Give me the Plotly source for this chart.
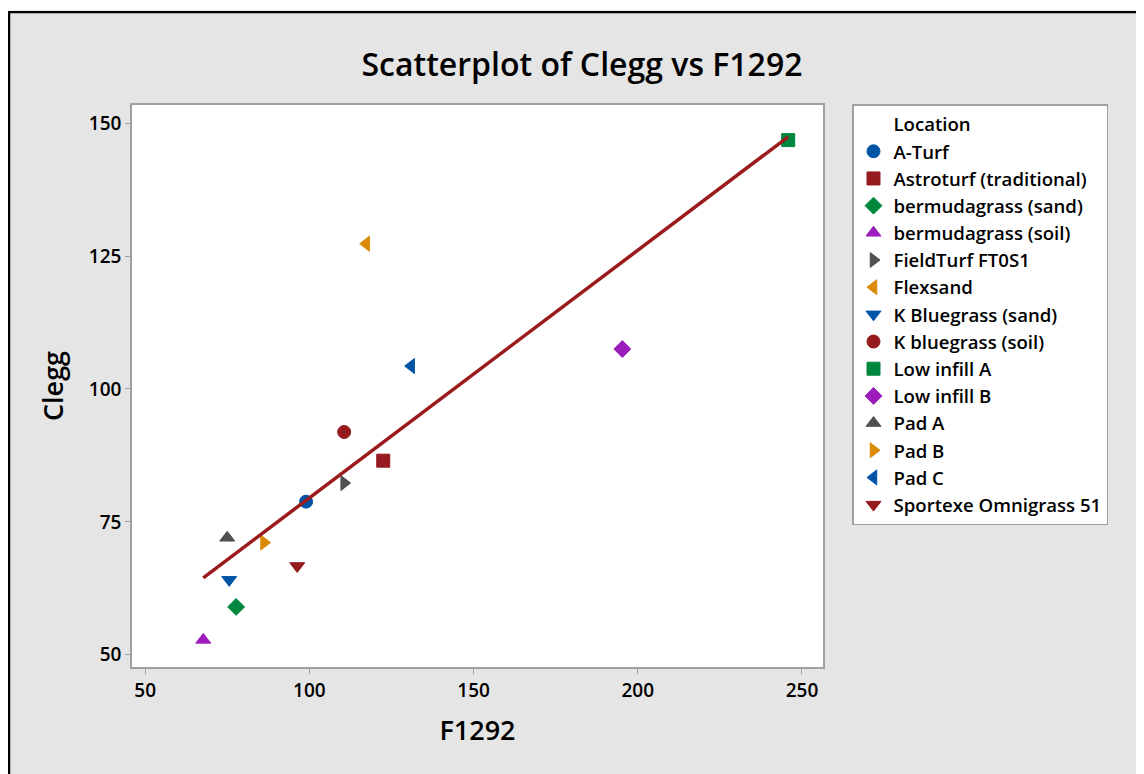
import numpy as np
import plotly.graph_objects as go

locations = ["A-Turf", "Astroturf (traditional)", "bermudagrass (sand)", "bermudagrass (soil)",
             "FieldTurf FT0S1", "Flexsand", "K Bluegrass (sand)", "K bluegrass (soil)",
             "Low infill A", "Low infill B", "Pad A", "Pad B", "Pad C", "Sportexe Omnigrass 51"]
f1292 = [99.0, 122.5, 77.7, 67.7, 110.6, 117.3, 75.6, 110.6, 245.8, 195.3, 75.0, 86.2, 131.0, 96.3]
clegg = [78.8, 86.5, 59.0, 52.8, 82.3, 127.3, 64.1, 91.9, 146.8, 107.5, 72.0, 71.1, 104.3, 66.7]

x_ticks = [50, 100, 150, 200, 250]
y_ticks = [50, 75, 100, 125, 150]

palette = ["#0054A6", "#951B1E", "#00873E", "#9C1DBB", "#505050", "#DB8A06"]
symbols = ["circle", "square", "diamond", "triangle-up", "triangle-right", "triangle-left", "triangle-down"]

FONT = "Open Sans"

fig = go.Figure()

# legend header entry
fig.add_trace(go.Scatter(x=[None], y=[None], mode="markers", name="Location",
                         marker=dict(color="rgba(0,0,0,0)", size=1), hoverinfo="skip"))

for i, (loc, xv, yv) in enumerate(zip(locations, f1292, clegg)):
    c = palette[i % len(palette)]
    fig.add_trace(go.Scatter(
        x=[xv], y=[yv], mode="markers", name=loc,
        marker=dict(symbol=symbols[i % len(symbols)], color=c, size=13,
                    line=dict(color=c, width=1))))

# regression line
coef = np.polyfit(f1292, clegg, 1)
xs = np.array([min(f1292), max(f1292)])
fig.add_trace(go.Scatter(x=xs, y=np.polyval(coef, xs), mode="lines", showlegend=False,
                         line=dict(color="#9B1B1B", width=3.5), hoverinfo="skip"))

# page has an 8px body margin; work in figure pixel coords (page - 8)
OFF = 8
W, H = 1144 - OFF, 774 - OFF
L, T = 132 - OFF, 105 - OFF
R = W - (823 - OFF)
B = H - (667 - OFF)
pw, ph = W - L - R, H - T - B
def px(xp):
    return (xp - OFF - L) / pw
def py(yp):
    return (H - B - (yp - OFF)) / ph

shapes = [
    dict(type="line", xref="paper", yref="paper", x0=px(8), x1=px(W + 40), y0=py(12), y1=py(12),
         line=dict(color="black", width=2.5)),
    dict(type="line", xref="paper", yref="paper", x0=px(9), x1=px(9), y0=py(11), y1=py(H + 40),
         line=dict(color="black", width=2.5)),
    dict(type="rect", xref="paper", yref="paper", x0=px(-20), x1=px(W + 40), y0=py(10.8), y1=py(-20),
         fillcolor="white", line=dict(width=0)),
]

axis_common = dict(showgrid=False, zeroline=False, showline=True, linecolor="#A0A0A0", linewidth=1.5,
                   mirror=True, ticks="outside", ticklen=5, tickcolor="#A0A0A0", tickwidth=1,
                   tickfont=dict(family=FONT, size=19, color="black", weight=600))

fig.update_layout(
    width=W, height=H,
    margin=dict(l=L, r=R, t=T, b=B),
    paper_bgcolor="#E5E5E5", plot_bgcolor="white",
    title=dict(text="Scatterplot of Clegg vs F1292", x=(582 - OFF) / W, xanchor="center",
               y=1 - (65 - OFF) / H, yanchor="middle", xref="container", yref="container",
               font=dict(family=FONT, size=32, color="black", weight=600)),
    xaxis=dict(range=[46.0, 256.4], tickvals=x_ticks,
               title=dict(text="F1292", standoff=20,
                          font=dict(family=FONT, size=27, color="black", weight=600)),
               **axis_common),
    yaxis=dict(range=[47.7, 153.4], tickvals=y_ticks,
               title=dict(text="Clegg", standoff=17,
                          font=dict(family=FONT, size=27, color="black", weight=600)),
               **axis_common),
    legend=dict(x=px(852), y=py(104), xanchor="left", yanchor="top",
                bgcolor="white", bordercolor="#A0A0A0", borderwidth=1.5,
                font=dict(family=FONT, size=18.6, color="black", weight=600),
                itemclick=False, maxheight=1000),
    shapes=shapes,
    showlegend=True,
)

fig.write_html("out.html")
